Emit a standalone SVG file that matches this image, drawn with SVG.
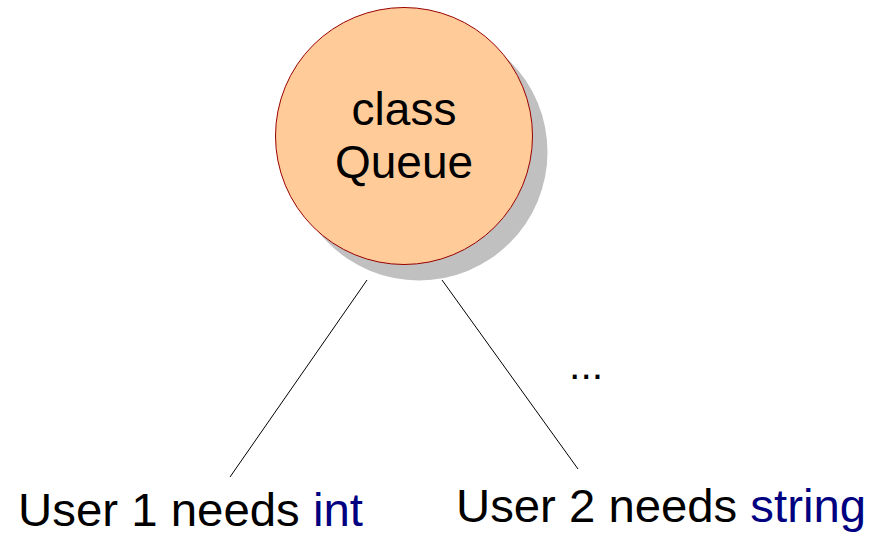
<svg xmlns="http://www.w3.org/2000/svg" width="874" height="536" viewBox="0 0 874 536">
<style>
  text { font-family: "Liberation Sans", Arial, sans-serif; fill: #000000; }
  .big { font-size: 46px; }
  .lbl { font-size: 47px; }
  .kw { fill: #000080; }
  .edge { stroke: #000000; stroke-width: 1; fill: none; }
</style>
<rect width="874" height="536" fill="#ffffff"/>
<g id="queue">
  <circle cx="419" cy="152" r="128.5" fill="#c0c0c0"/>
  <circle cx="404" cy="136" r="128.5" fill="#ffcc99" stroke="#990000" stroke-width="1"/>
  <text class="big" x="404" y="125" text-anchor="middle">class</text>
  <text class="big" x="404" y="178" text-anchor="middle">Queue</text>
</g>
<g id="connectors">
  <line class="edge" x1="367" y1="280" x2="230" y2="477"/>
  <line class="edge" x1="442" y1="280" x2="578" y2="469"/>
</g>
<g id="user1">
  <text class="lbl" x="18" y="526" textLength="345" lengthAdjust="spacingAndGlyphs">User 1 needs <tspan class="kw">int</tspan></text>
</g>
<g id="user2">
  <text class="lbl" x="456" y="522" textLength="410" lengthAdjust="spacingAndGlyphs">User 2 needs <tspan class="kw">string</tspan></text>
</g>
<g id="more">
  <text x="569" y="379" style="font-size:41px">...</text>
</g>
</svg>
